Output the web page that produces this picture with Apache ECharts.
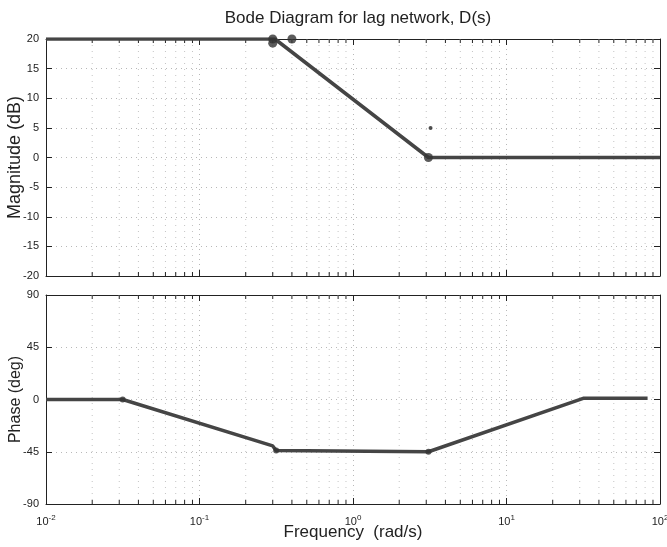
<!DOCTYPE html>
<html>
<head>
<meta charset="utf-8">
<script src="https://cdn.jsdelivr.net/npm/echarts@6/dist/echarts.min.js"></script>
<style>html,body{margin:0;padding:0;background:#fff}#c{width:667px;height:547px}</style>
</head>
<body>
<div id="c"></div>
<script>
// ---- data ----
const titleText = 'Bode Diagram for lag network, D(s)';
const magFreq = [0.01, 0.31, 3.1, 100];
const magDb = [20, 20, 0, 0];
const magMarkFreq = [0.3, 0.3, 0.4, 3.1];
const magMarkDb = [20, 19.3, 20, 0];
const strayFreq = [3.2];
const strayDb = [5];
const phaseFreq = [0.01, 0.0316, 0.30, 0.316, 3.1, 31.6, 83];
const phaseDeg = [0, 0, -40, -44, -45, 1, 1];
const phaseMarkFreq = [0.0316, 0.316, 3.1];
const phaseMarkDeg = [0, -44, -45];
const magTicks = [-20, -15, -10, -5, 0, 5, 10, 15, 20];
const phaseTicks = [-90, -45, 0, 45, 90];
const decades = [0.01, 0.1, 1, 10];
const minorMult = [2, 3, 4, 5, 6, 7, 8, 9];

const minorTicks = [];
decades.forEach(d => minorMult.forEach(m => minorTicks.push(+(d * m).toPrecision(3))));

const FONT = 'Liberation Sans, Arial, Helvetica, sans-serif';
const INK = '#222';
const LINE = '#454545';

const pair = (xs, ys) => xs.map((x, i) => [x, ys[i]]);

function minorRender(yMin, yMax) {
  return function (params, api) {
    const x = api.value(0);
    const t = api.coord([x, yMax]);
    const b = api.coord([x, yMin]);
    return {
      type: 'group',
      children: [
        {type: 'line', shape: {x1: t[0], y1: t[1], x2: b[0], y2: b[1]},
         style: {stroke: '#c4c4c4', lineWidth: 1, lineDash: [1, 5]}},
        {type: 'line', shape: {x1: t[0], y1: t[1], x2: t[0], y2: t[1] + 4},
         style: {stroke: INK, lineWidth: 1}},
        {type: 'line', shape: {x1: b[0], y1: b[1], x2: b[0], y2: b[1] - 4},
         style: {stroke: INK, lineWidth: 1}}
      ]
    };
  };
}

function xAxisDef(grid, pos, labels) {
  return {
    type: 'log', logBase: 10, min: 0.01, max: 100, gridIndex: grid, position: pos,
    axisLine: {show: true, onZero: false, lineStyle: {color: INK, width: 1}},
    axisTick: {show: true, inside: true, length: 6, lineStyle: {color: INK}},
    minorTick: {show: false},
    splitLine: {show: pos === 'bottom', lineStyle: {color: '#b8b8b8', type: [1, 4]}},
    axisLabel: labels ? {
      show: true, margin: 10, color: INK, fontFamily: FONT, fontSize: 11,
      formatter: v => '10{s|' + Math.round(Math.log10(v)) + '}',
      rich: {s: {fontSize: 8, verticalAlign: 'top', padding: [0, 0, 8, 0], fontFamily: FONT, color: INK}}
    } : {show: false},
    name: labels ? 'Frequency  (rad/s)' : '',
    nameLocation: 'middle', nameGap: 20, nameMoveOverlap: false,
    nameTextStyle: {fontFamily: FONT, fontSize: 17, color: INK}
  };
}

function yAxisDef(grid, pos, min, max, interval, name, labels, nameSize) {
  return {
    type: 'value', gridIndex: grid, position: pos, min: min, max: max, interval: interval,
    axisLine: {show: true, onZero: false, lineStyle: {color: INK, width: 1}},
    axisTick: {show: true, inside: true, length: 6, lineStyle: {color: INK}},
    splitLine: {show: labels, lineStyle: {color: '#b8b8b8', type: [1, 4]}},
    axisLabel: labels ? {show: true, margin: 7, color: INK, fontFamily: FONT, fontSize: 11} : {show: false},
    name: labels ? name : '', nameLocation: 'middle', nameRotate: 90, nameGap: 22, nameMoveOverlap: false,
    nameTextStyle: {fontFamily: FONT, fontSize: nameSize || 16, color: INK}
  };
}

const chart = echarts.init(document.getElementById('c'), null, {renderer: 'canvas'});
chart.setOption({
  animation: false,
  backgroundColor: '#fff',
  title: {text: titleText, left: 353, textAlign: 'center', top: 5,
          textStyle: {fontFamily: FONT, fontSize: 17, fontWeight: 'normal', color: INK}},
  grid: [
    {left: 46, right: 7, top: 39, height: 237, containLabel: false, outerBoundsMode: 'none'},
    {left: 46, right: 7, top: 295, height: 209, containLabel: false, outerBoundsMode: 'none'}
  ],
  xAxis: [
    xAxisDef(0, 'bottom', false), xAxisDef(0, 'top', false),
    xAxisDef(1, 'bottom', true), xAxisDef(1, 'top', false)
  ],
  yAxis: [
    yAxisDef(0, 'left', magTicks[0], magTicks[magTicks.length - 1], 5, 'Magnitude (dB)', true, 18),
    yAxisDef(0, 'right', magTicks[0], magTicks[magTicks.length - 1], 5, '', false),
    yAxisDef(1, 'left', phaseTicks[0], phaseTicks[phaseTicks.length - 1], 45, 'Phase (deg)', true, 16),
    yAxisDef(1, 'right', phaseTicks[0], phaseTicks[phaseTicks.length - 1], 45, '', false)
  ],
  series: [
    {type: 'custom', xAxisIndex: 0, yAxisIndex: 0, silent: true, z: 1,
     renderItem: minorRender(magTicks[0], magTicks[magTicks.length - 1]),
     data: minorTicks.map(v => [v, 0]), encode: {x: 0, y: 1}},
    {type: 'custom', xAxisIndex: 2, yAxisIndex: 2, silent: true, z: 1,
     renderItem: minorRender(phaseTicks[0], phaseTicks[phaseTicks.length - 1]),
     data: minorTicks.map(v => [v, 0]), encode: {x: 0, y: 1}},
    {type: 'line', xAxisIndex: 0, yAxisIndex: 0, data: pair(magFreq, magDb), showSymbol: false,
     lineStyle: {color: LINE, width: 3.5}, z: 5},
    {type: 'scatter', xAxisIndex: 0, yAxisIndex: 0, data: pair(magMarkFreq, magMarkDb),
     symbolSize: 9, itemStyle: {color: '#333'}, z: 6},
    {type: 'scatter', xAxisIndex: 0, yAxisIndex: 0, data: pair(strayFreq, strayDb),
     symbolSize: 4, itemStyle: {color: '#222'}, z: 6},
    {type: 'line', xAxisIndex: 2, yAxisIndex: 2, data: pair(phaseFreq, phaseDeg), showSymbol: false,
     lineStyle: {color: LINE, width: 3.5}, z: 5},
    {type: 'scatter', xAxisIndex: 2, yAxisIndex: 2, data: pair(phaseMarkFreq, phaseMarkDeg),
     symbolSize: 6, itemStyle: {color: '#333'}, z: 6}
  ]
});
</script>
</body>
</html>
